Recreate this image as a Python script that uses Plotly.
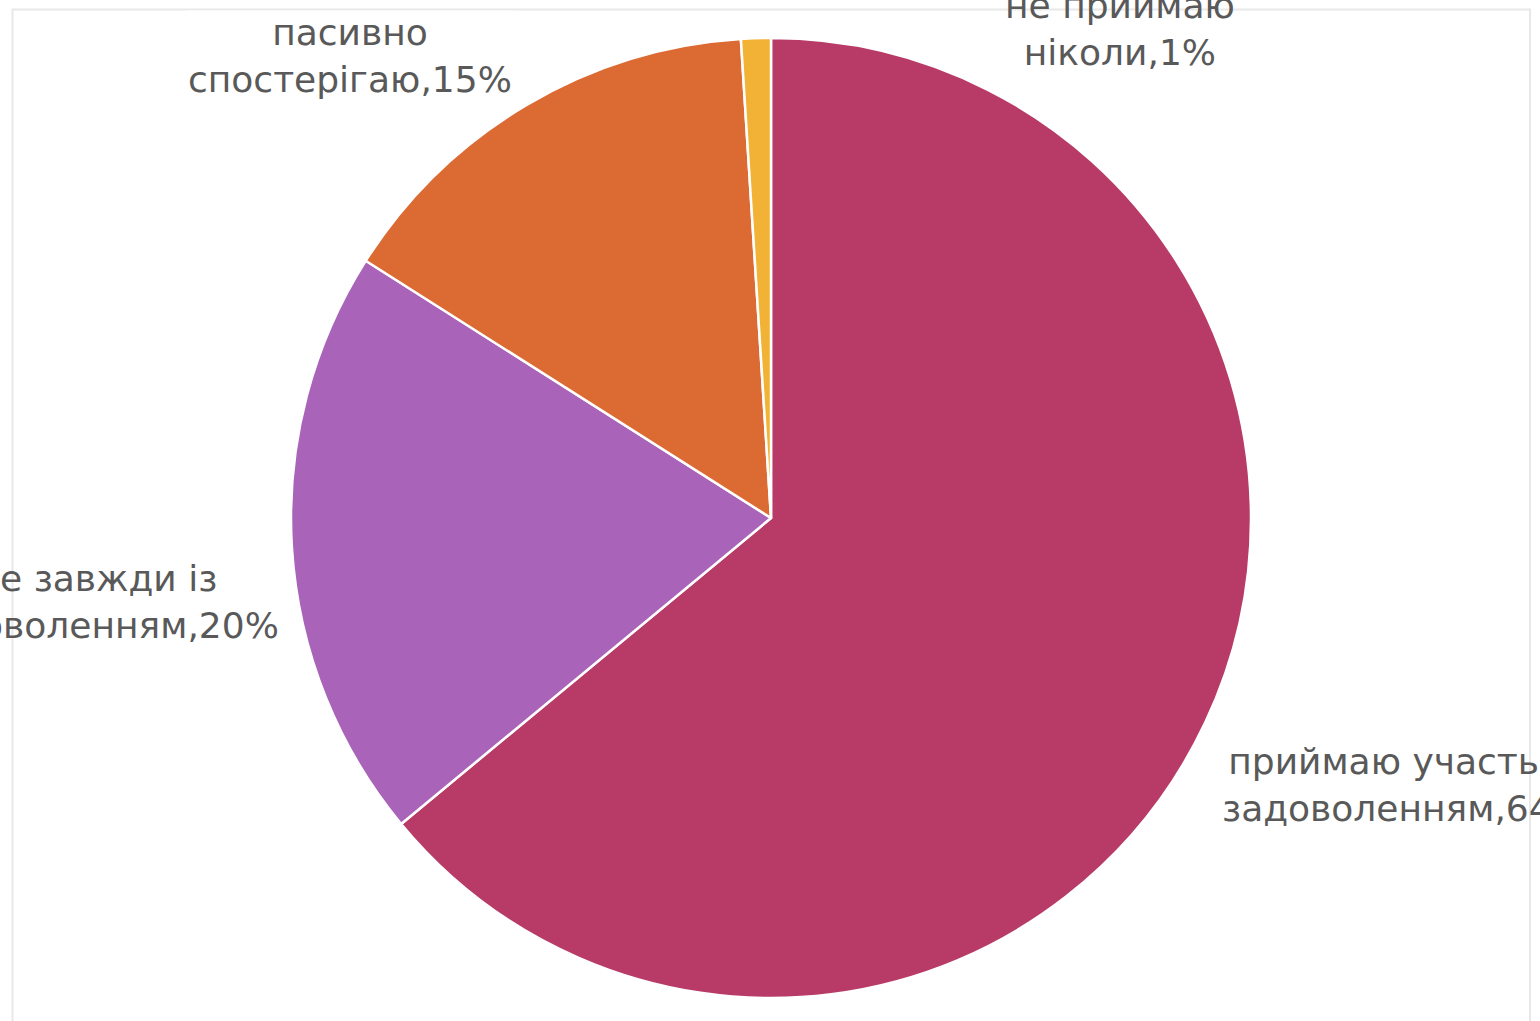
import plotly.graph_objects as go

labels = ["приймаю участь із задоволенням", "не завжди із задоволенням", "пасивно спостерігаю", "не приймаю ніколи"]
label_lines = [["приймаю участь із", "задоволенням"], ["не завжди із", "задоволенням"], ["пасивно", "спостерігаю"], ["не приймаю", "ніколи"]]
values = [64, 20, 15, 1]
colors = ["#B83B67", "#A964BA", "#DC6A33", "#F2B235"]

W, H = 1540, 1021

fig = go.Figure()
fig.add_trace(go.Pie(
    labels=labels,
    values=values,
    sort=False,
    direction="clockwise",
    rotation=0,
    marker=dict(colors=colors, line=dict(color="white", width=2.5)),
    textinfo="none",
    hoverinfo="label+percent",
    showlegend=False,
    domain=dict(x=[291 / W, 1251 / W], y=[1 - 998 / H, 1 - 38 / H]),
))

# label anchor positions in pixels (center of text block)
label_pos = [(1404, 785), (97, 602), (350, 56), (1120, 29)]
bgs = ["rgba(0,0,0,0)", "rgba(0,0,0,0)", "white", "rgba(0,0,0,0)"]

annotations = []
for lines, v, (px, py), bg in zip(label_lines, values, label_pos, bgs):
    text = lines[0] + "<br>" + lines[1] + "," + str(v) + "%"
    annotations.append(dict(
        x=px / W, y=1 - py / H, xref="paper", yref="paper",
        xanchor="center", yanchor="middle", showarrow=False,
        text=text, align="center", bgcolor=bg,
        font=dict(family="DejaVu Sans", size=36, color="#595959"),
    ))

fig.update_layout(
    width=W, height=H,
    margin=dict(l=0, r=0, t=0, b=0),
    paper_bgcolor="white",
    plot_bgcolor="white",
    annotations=annotations,
    shapes=[dict(type="rect", xref="paper", yref="paper",
                 x0=12.5 / W, x1=1530 / W, y0=-0.1, y1=1 - 9.5 / H,
                 line=dict(color="#e8e8e8", width=2), layer="below")],
)

fig.write_html("out.html", config={"displayModeBar": False},
               post_script="document.body.style.margin='0';document.body.style.overflow='hidden';")
